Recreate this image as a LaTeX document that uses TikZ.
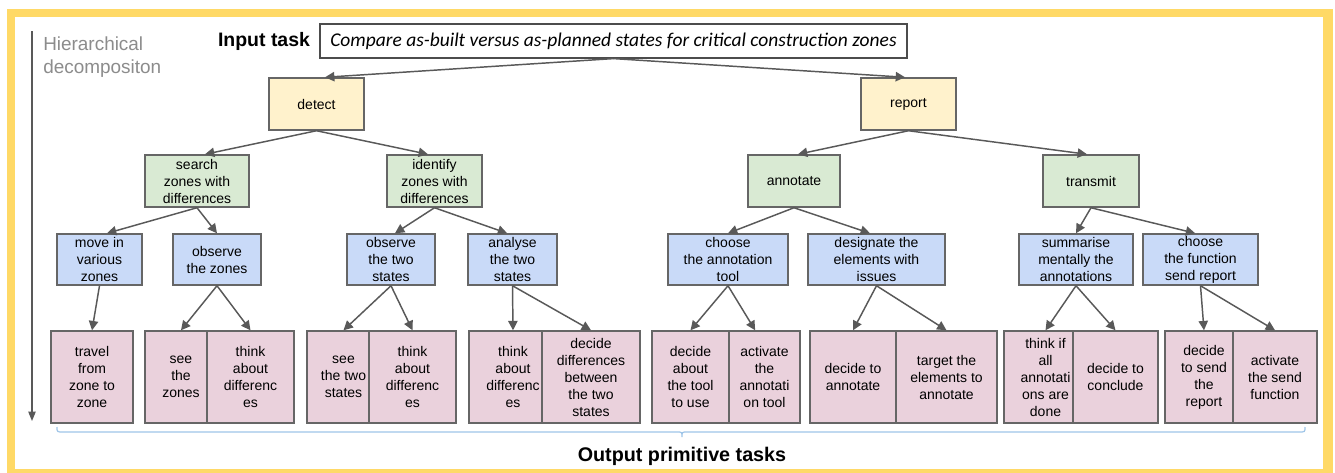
\documentclass[tikz,border=0pt]{standalone}
\usepackage{fontspec}
\setmainfont{Liberation Sans}
\newfontfamily\cali{Carlito}
\usetikzlibrary{arrows.meta}
\definecolor{frameY}{HTML}{FFD966}
\definecolor{bordG}{HTML}{666666}
\definecolor{arrG}{HTML}{595959}
\definecolor{fY}{HTML}{FFF2CC}
\definecolor{fG}{HTML}{D9EAD3}
\definecolor{fB}{HTML}{C9DAF8}
\definecolor{fP}{HTML}{EAD1DC}
\definecolor{braceC}{HTML}{9FC5E8}
\definecolor{hierT}{HTML}{8C8C8C}
\newcommand\bx[7]{\node[#6, minimum width={(#4-#2)*0.75pt}, minimum height={(#5-#3)*0.75pt}] (#1) at ({(#2+#4)/2},{(#3+#5)/2}) {#7};}
\begin{document}
\begin{tikzpicture}[x=0.75pt,y=-0.75pt,
  box/.style={draw=bordG, line width=1.1pt, inner sep=0pt, align=center, font=\fontsize{10.5}{12.75}\selectfont, text=black},
  ybox/.style={box, fill=fY},
  gbox/.style={box, fill=fG},
  bbox/.style={box, fill=fB},
  pbox/.style={box, fill=fP},
  arr/.style={draw=arrG, line width=1.1pt, -{Triangle[length=7pt,width=7pt]}}]
\useasboundingbox (0,0) rectangle (1335,472);
\fill[frameY] (7,9) rectangle (1333,474);
\fill[white] (15,17) rectangle (1323,469);

\node[anchor=west, align=left, text=hierT, inner sep=0pt, font=\fontsize{14.2}{17.25}\selectfont] (hier) at (43,57) {Hierarchical\\decompositon};
\coordinate (vtop) at (32,31);
\coordinate (vbot) at (32,421);
\draw[draw=arrG, line width=0.9pt, -{Triangle[length=7pt,width=5.5pt]}] (vtop) -- (vbot);

\node[font=\bfseries\fontsize{14.6}{17}\selectfont] (inlabel) at (264,41) {Input task};
\bx{input}{320}{24}{907}{58}{draw=black!70, line width=0.9pt, fill=white, inner sep=0pt, font=\cali\itshape\fontsize{14.6}{17}\selectfont}{Compare as-built versus as-planned states for critical construction zones}

\bx{detect}{269}{78}{364}{130}{ybox}{detect}
\bx{report}{861}{78}{956}{130}{ybox}{report}

\bx{search}{145}{155}{249}{207}{gbox}{search\\zones with\\differences}
\bx{identify}{387}{155}{482}{207}{gbox}{identify\\zones with\\differences}
\bx{annotate}{748}{155}{840}{207}{gbox}{annotate}
\bx{transmit}{1043}{155}{1139}{207}{gbox}{transmit}

\bx{move}{57}{234}{142}{285}{bbox}{move in\\various\\zones}
\bx{obsz}{173}{234}{261}{285}{bbox}{observe\\the zones}
\bx{obst}{347}{234}{435}{285}{bbox}{observe\\the two\\states}
\bx{anal}{468}{234}{557}{285}{bbox}{analyse\\the two\\states}
\bx{chtool}{668}{234}{788}{285}{bbox}{choose\\the annotation\\tool}
\bx{desig}{808}{234}{945}{285}{bbox}{designate the\\elements with\\issues}
\bx{summ}{1019}{234}{1133}{285}{bbox}{summarise\\mentally the\\annotations}
\bx{chfun}{1143}{234}{1258}{285}{bbox}{choose\\the function\\send report}

\bx{travel}{51}{331}{133}{423}{pbox}{travel\\from\\zone to\\zone}
\bx{seez}{145}{331}{217}{423}{pbox}{see\\the\\zones}
\bx{thinkz}{207}{331}{294}{423}{pbox}{think\\about\\differenc\\es}
\bx{seet}{307}{331}{380}{423}{pbox}{see\\the two\\states}
\bx{thinkt}{369}{331}{456}{423}{pbox}{think\\about\\differenc\\es}
\bx{thinka}{469}{331}{557}{423}{pbox}{think\\about\\differenc\\es}
\bx{decd}{542}{331}{640}{423}{pbox}{decide\\differences\\between\\the two\\states}
\bx{dectool}{652}{331}{729}{423}{pbox}{decide\\about\\the tool\\to use}
\bx{acttool}{729}{331}{800}{423}{pbox}{activate\\the\\annotati\\on tool}
\bx{decann}{810}{331}{896}{423}{pbox}{decide to\\annotate}
\bx{target}{896}{331}{997}{423}{pbox}{target the\\elements to\\annotate}
\bx{thinkall}{1004}{331}{1087}{423}{pbox}{think if\\all\\annotati\\ons are\\done}
\bx{concl}{1073}{331}{1158}{423}{pbox}{decide to\\conclude}
\bx{decsend}{1165}{331}{1243}{423}{pbox}{decide\\to send\\the\\report}
\bx{actsend}{1233}{331}{1317}{423}{pbox}{activate\\the send\\function}

\draw[arr] (input.south) -- ([xshift=6.4pt]detect.north);
\draw[arr] (input.south) -- ([xshift=-2.6pt]report.north);
\draw[arr] (detect.south) -- ([xshift=6pt]search.north);
\draw[arr] (detect.south) -- ([xshift=-4.9pt]identify.north);
\draw[arr] (report.south) -- ([xshift=3pt]annotate.north);
\draw[arr] (report.south) -- ([xshift=-3pt]transmit.north);
\draw[arr] (search.south) -- ([xshift=5.6pt]move.north);
\draw[arr] (search.south) -- (obsz.north);
\draw[arr] (identify.south) -- ([xshift=3pt]obst.north);
\draw[arr] (identify.south) -- ([xshift=-4pt]anal.north);
\draw[arr] (annotate.south) -- (chtool.north);
\draw[arr] (annotate.south) -- ([xshift=-4.9pt]desig.north);
\draw[arr] (transmit.south) -- (summ.north);
\draw[arr] (transmit.south) -- ([xshift=-4pt]chfun.north);
\draw[arr] (move.south) -- (travel.north);
\draw[arr] (obsz.south) -- (seez.north);
\draw[arr] (obsz.south) -- (thinkz.north);
\draw[arr] (obst.south) -- (seet.north);
\draw[arr] (obst.south) -- (thinkt.north);
\draw[arr] (anal.south) -- (thinka.north);
\draw[arr] (anal.south) -- (decd.north);
\draw[arr] (chtool.south) -- (dectool.north);
\draw[arr] (chtool.south) -- ([xshift=-7pt]acttool.north);
\draw[arr] (desig.south) -- (decann.north);
\draw[arr] (desig.south) -- (target.north);
\draw[arr] (summ.south) -- (thinkall.north);
\draw[arr] (summ.south) -- (concl.north);
\draw[arr] (chfun.south) -- (decsend.north);
\draw[arr] (chfun.south) -- (actsend.north);

\draw[braceC, line width=0.9pt] (57,427) .. controls (57,432) .. (63,432) -- (677,432) .. controls (682,432) .. (682,437) .. controls (682,432) .. (687,432) -- (1299,432) .. controls (1305,432) .. (1305,427);
\node[font=\bfseries\fontsize{14.8}{17}\selectfont] (outlabel) at (682,456) {Output primitive tasks};
\end{tikzpicture}
\end{document}
